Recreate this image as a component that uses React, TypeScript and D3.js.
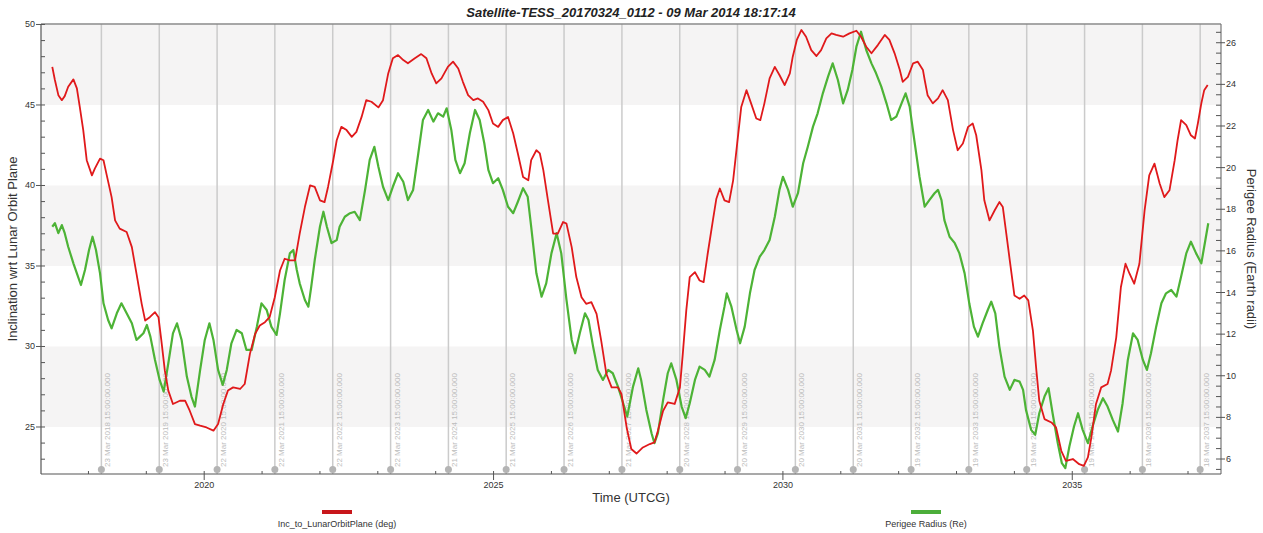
import React from "react";
import * as d3 from "d3";

const TITLE = "Satellite-TESS_20170324_0112 - 09 Mar 2014 18:17:14";
const X_TITLE = "Time (UTCG)";
const LEFT_TITLE = "Inclination wrt Lunar Orbit Plane";
const RIGHT_TITLE = "Perigee Radius (Earth radii)";
const INC_LABEL = "Inc_to_LunarOrbitPlane (deg)";
const PER_LABEL = "Perigee Radius (Re)";

const xMajorTicks = [2020, 2025, 2030, 2035];
const leftMajorTicks = [25, 30, 35, 40, 45, 50];
const rightMajorTicks = [6, 8, 10, 12, 14, 16, 18, 20, 22, 24, 26];
const bandStarts = [25, 35, 45];

const eventDates = [
  "23 Mar 2018", "23 Mar 2019", "22 Mar 2020", "22 Mar 2021", "22 Mar 2022",
  "22 Mar 2023", "21 Mar 2024", "21 Mar 2025", "21 Mar 2026", "21 Mar 2027",
  "20 Mar 2028", "20 Mar 2029", "20 Mar 2030", "20 Mar 2031", "19 Mar 2032",
  "19 Mar 2033", "19 Mar 2034", "19 Mar 2035", "18 Mar 2036", "18 Mar 2037",
];
const eventTime = "15:00:00.000";

const incTimes = [
  2017.375, 2017.42, 2017.48, 2017.54, 2017.59, 2017.65, 2017.74, 2017.80, 2017.85, 2017.91,
  2017.97, 2018.06, 2018.11, 2018.20, 2018.26, 2018.31, 2018.40, 2018.46, 2018.54, 2018.66,
  2018.75, 2018.83, 2018.92, 2018.98, 2019.06, 2019.15, 2019.21, 2019.26, 2019.32, 2019.38,
  2019.46, 2019.58, 2019.67, 2019.75, 2019.84, 2019.93, 2020.04, 2020.16, 2020.24, 2020.33,
  2020.41, 2020.50, 2020.62, 2020.70, 2020.79, 2020.88, 2020.96, 2021.05, 2021.13, 2021.22,
  2021.31, 2021.39, 2021.48, 2021.57, 2021.65, 2021.74, 2021.83, 2021.91, 2022.00, 2022.08,
  2022.14, 2022.23, 2022.29, 2022.37, 2022.46, 2022.55, 2022.63, 2022.72, 2022.80, 2022.89,
  2023.01, 2023.09, 2023.18, 2023.26, 2023.35, 2023.44, 2023.52, 2023.64, 2023.75, 2023.84,
  2023.93, 2024.01, 2024.10, 2024.21, 2024.30, 2024.39, 2024.47, 2024.56, 2024.65, 2024.73,
  2024.82, 2024.91, 2024.99, 2025.08, 2025.16, 2025.25, 2025.34, 2025.42, 2025.51, 2025.60,
  2025.65, 2025.74, 2025.80, 2025.86, 2025.94, 2026.03, 2026.11, 2026.20, 2026.26, 2026.35,
  2026.43, 2026.52, 2026.60, 2026.69, 2026.78, 2026.86, 2026.95, 2027.04, 2027.15, 2027.21,
  2027.30, 2027.38, 2027.47, 2027.58, 2027.70, 2027.78, 2027.84, 2027.93, 2028.01, 2028.13,
  2028.22, 2028.27, 2028.33, 2028.39, 2028.48, 2028.56, 2028.63, 2028.70, 2028.79, 2028.85,
  2028.91, 2028.99, 2029.07, 2029.14, 2029.21, 2029.28, 2029.37, 2029.45, 2029.54, 2029.61,
  2029.68, 2029.77, 2029.86, 2029.94, 2030.03, 2030.12, 2030.17, 2030.24, 2030.32, 2030.40,
  2030.49, 2030.58, 2030.66, 2030.75, 2030.84, 2030.92, 2031.04, 2031.15, 2031.27, 2031.35,
  2031.44, 2031.53, 2031.64, 2031.76, 2031.84, 2031.93, 2032.02, 2032.07, 2032.16, 2032.25,
  2032.33, 2032.42, 2032.45, 2032.50, 2032.59, 2032.68, 2032.76, 2032.85, 2032.94, 2033.02,
  2033.11, 2033.20, 2033.28, 2033.34, 2033.43, 2033.48, 2033.57, 2033.66, 2033.74, 2033.80,
  2033.86, 2033.92, 2034.00, 2034.09, 2034.17, 2034.24, 2034.32, 2034.38, 2034.43, 2034.52,
  2034.64, 2034.72, 2034.81, 2034.89, 2035.01, 2035.12, 2035.20, 2035.27, 2035.33, 2035.41,
  2035.50, 2035.61, 2035.67, 2035.76, 2035.84, 2035.92, 2035.99, 2036.07, 2036.16, 2036.25,
  2036.33, 2036.42, 2036.51, 2036.59, 2036.68, 2036.77, 2036.82, 2036.88, 2036.97, 2037.05,
  2037.12, 2037.17, 2037.23, 2037.28, 2037.34,
];
const incValues = [
  47.37, 46.55, 45.61, 45.30, 45.55, 46.13, 46.59, 46.03, 44.88, 43.44,
  41.57, 40.63, 41.05, 41.67, 41.57, 40.74, 39.28, 37.83, 37.32, 37.11,
  36.17, 34.52, 32.65, 31.61, 31.82, 32.13, 31.82, 30.37, 28.50, 27.26,
  26.43, 26.63, 26.63, 26.01, 25.18, 25.08, 24.97, 24.77, 25.18, 26.43,
  27.26, 27.46, 27.36, 27.67, 29.54, 30.78, 31.30, 31.51, 31.82, 33.06,
  34.72, 35.45, 35.35, 35.35, 37.01, 38.66, 40.01, 39.91, 39.08, 38.97,
  39.91, 41.57, 42.81, 43.64, 43.44, 43.02, 43.33, 44.26, 45.30, 45.20,
  44.85, 45.30, 46.96, 47.90, 48.10, 47.79, 47.59, 47.90, 48.16, 47.90,
  46.96, 46.34, 46.65, 47.37, 47.69, 47.27, 46.44, 45.61, 45.30, 45.41,
  45.20, 44.68, 43.85, 43.64, 44.06, 44.26, 43.23, 41.99, 40.53, 40.32,
  41.57, 42.19, 41.99, 40.95, 39.08, 37.01, 37.01, 37.73, 37.63, 36.17,
  34.31, 33.06, 32.65, 32.75, 32.03, 30.37, 28.29, 27.46, 27.46, 27.05,
  24.97, 23.63, 23.35, 23.73, 23.94, 24.04, 24.77, 26.01, 26.53, 26.43,
  27.46, 29.54, 32.23, 34.31, 34.62, 34.10, 34.00, 35.76, 37.83, 39.18,
  39.81, 39.08, 38.97, 40.32, 42.61, 44.88, 45.92, 45.10, 44.16, 44.06,
  45.10, 46.65, 47.37, 46.86, 46.24, 46.96, 48.00, 49.04, 49.66, 49.24,
  48.41, 48.04, 48.41, 49.14, 49.45, 49.35, 49.24, 49.45, 49.61, 49.24,
  48.62, 48.21, 48.72, 49.35, 49.04, 48.21, 47.17, 46.44, 46.75, 47.59,
  47.69, 47.17, 46.55, 45.61, 45.10, 45.41, 45.92, 45.30, 43.44, 42.19,
  42.61, 43.64, 43.85, 43.12, 40.95, 39.08, 37.83, 38.46, 38.97, 38.66,
  37.01, 35.35, 33.17, 32.96, 33.17, 32.86, 30.99, 28.50, 26.63, 25.49,
  25.28, 24.97, 23.52, 22.90, 23.01, 22.69, 22.59, 23.11, 24.35, 26.43,
  27.46, 27.67, 28.50, 30.57, 33.68, 35.14, 34.52, 33.90, 35.14, 38.46,
  40.63, 41.36, 40.12, 39.28, 39.70, 41.57, 42.81, 44.06, 43.75, 43.12,
  42.92, 43.85, 45.10, 45.92, 46.24,
];

const perigeeTimes = [
  2017.375, 2017.42, 2017.48, 2017.54, 2017.59, 2017.65, 2017.74, 2017.80, 2017.87, 2017.94,
  2018.01, 2018.07, 2018.13, 2018.20, 2018.26, 2018.34, 2018.40, 2018.49, 2018.57, 2018.66,
  2018.75, 2018.83, 2018.89, 2018.95, 2019.01, 2019.07, 2019.15, 2019.23, 2019.30, 2019.38,
  2019.46, 2019.53, 2019.61, 2019.70, 2019.78, 2019.84, 2019.93, 2020.01, 2020.09, 2020.16,
  2020.24, 2020.32, 2020.39, 2020.47, 2020.56, 2020.65, 2020.73, 2020.82, 2020.91, 2020.99,
  2021.08, 2021.16, 2021.25, 2021.31, 2021.39, 2021.48, 2021.54, 2021.60, 2021.65, 2021.74,
  2021.80, 2021.85, 2021.91, 2022.00, 2022.06, 2022.12, 2022.20, 2022.29, 2022.34, 2022.43,
  2022.52, 2022.60, 2022.69, 2022.78, 2022.86, 2022.94, 2023.01, 2023.09, 2023.18, 2023.26,
  2023.35, 2023.44, 2023.52, 2023.61, 2023.70, 2023.78, 2023.87, 2023.96, 2024.04, 2024.13,
  2024.19, 2024.27, 2024.34, 2024.42, 2024.50, 2024.59, 2024.68, 2024.76, 2024.84, 2024.91,
  2024.99, 2025.08, 2025.16, 2025.25, 2025.34, 2025.42, 2025.51, 2025.59, 2025.65, 2025.74,
  2025.83, 2025.91, 2026.00, 2026.09, 2026.17, 2026.26, 2026.35, 2026.41, 2026.49, 2026.58,
  2026.64, 2026.72, 2026.80, 2026.89, 2026.98, 2027.06, 2027.15, 2027.24, 2027.31, 2027.41,
  2027.50, 2027.55, 2027.64, 2027.73, 2027.78, 2027.84, 2027.93, 2028.01, 2028.07, 2028.16,
  2028.25, 2028.32, 2028.39, 2028.48, 2028.56, 2028.65, 2028.73, 2028.82, 2028.91, 2028.99,
  2029.03, 2029.11, 2029.20, 2029.26, 2029.34, 2029.43, 2029.51, 2029.60, 2029.68, 2029.77,
  2029.86, 2029.94, 2030.00, 2030.09, 2030.17, 2030.26, 2030.35, 2030.43, 2030.52, 2030.60,
  2030.69, 2030.78, 2030.86, 2030.95, 2031.04, 2031.12, 2031.20, 2031.27, 2031.35, 2031.44,
  2031.53, 2031.61, 2031.70, 2031.79, 2031.87, 2031.96, 2032.05, 2032.12, 2032.19, 2032.27,
  2032.36, 2032.45, 2032.53, 2032.62, 2032.68, 2032.74, 2032.79, 2032.88, 2032.97, 2033.05,
  2033.14, 2033.22, 2033.30, 2033.37, 2033.45, 2033.54, 2033.60, 2033.67, 2033.74, 2033.83,
  2033.92, 2034.00, 2034.09, 2034.15, 2034.20, 2034.29, 2034.36, 2034.43, 2034.52, 2034.59,
  2034.66, 2034.75, 2034.82, 2034.88, 2034.95, 2035.03, 2035.10, 2035.18, 2035.27, 2035.35,
  2035.44, 2035.53, 2035.61, 2035.70, 2035.79, 2035.87, 2035.96, 2036.05, 2036.13, 2036.22,
  2036.29, 2036.36, 2036.45, 2036.54, 2036.62, 2036.71, 2036.80, 2036.88, 2036.97, 2037.05,
  2037.14, 2037.23, 2037.30, 2037.35,
];
const perigeeValues = [
  17.16, 17.33, 16.85, 17.24, 16.85, 16.20, 15.40, 14.92, 14.36, 15.08,
  16.04, 16.68, 16.04, 14.92, 13.48, 12.68, 12.28, 13.00, 13.48, 13.00,
  12.52, 11.72, 11.88, 12.04, 12.44, 11.88, 10.76, 9.80, 9.24, 10.60,
  12.04, 12.52, 11.72, 9.96, 9.00, 8.52, 10.28, 11.72, 12.52, 11.72,
  10.28, 9.56, 10.28, 11.56, 12.20, 12.04, 11.24, 11.24, 12.36, 13.48,
  13.16, 12.36, 11.96, 13.00, 14.60, 15.88, 16.04, 15.08, 14.44, 13.64,
  13.32, 14.28, 15.56, 17.16, 17.88, 17.16, 16.37, 16.52, 17.16, 17.64,
  17.81, 17.88, 17.48, 18.93, 20.37, 21.00, 20.04, 19.08, 18.44, 19.08,
  19.73, 19.32, 18.44, 18.93, 20.69, 22.29, 22.77, 22.21, 22.61, 22.45,
  22.85, 21.81, 20.37, 19.73, 20.21, 21.65, 22.77, 22.29, 21.17, 19.89,
  19.25, 19.49, 18.93, 18.12, 17.81, 18.36, 19.01, 18.60, 17.16, 14.92,
  13.80, 14.44, 15.88, 16.85, 15.88, 13.64, 11.72, 11.08, 12.04, 13.00,
  12.68, 11.40, 10.28, 9.80, 10.28, 10.12, 9.48, 8.68, 8.04, 9.48,
  10.36, 9.80, 8.36, 7.24, 6.76, 7.24, 8.84, 10.12, 10.60, 9.80,
  8.52, 7.96, 8.68, 9.80, 10.44, 10.28, 9.96, 10.76, 12.20, 13.32,
  13.96, 13.32, 12.20, 11.56, 12.36, 13.96, 15.08, 15.72, 16.04, 16.52,
  17.64, 18.93, 19.56, 18.93, 18.12, 18.77, 20.21, 21.00, 21.97, 22.61,
  23.57, 24.37, 25.01, 24.21, 23.09, 23.73, 24.69, 25.81, 26.53, 25.65,
  25.01, 24.53, 23.89, 23.09, 22.29, 22.45, 23.09, 23.57, 22.93, 21.33,
  19.56, 18.12, 18.44, 18.77, 18.93, 18.44, 17.48, 16.68, 16.37, 15.88,
  14.92, 13.48, 12.36, 11.88, 12.52, 13.16, 13.56, 13.00, 11.40, 9.96,
  9.32, 9.80, 9.72, 9.32, 8.36, 7.40, 7.16, 8.20, 9.00, 9.40,
  8.20, 6.76, 5.80, 5.56, 6.60, 7.56, 8.20, 7.40, 6.76, 7.56,
  8.36, 8.92, 8.52, 7.88, 7.32, 8.68, 10.76, 12.04, 11.72, 10.76,
  10.28, 11.08, 12.36, 13.48, 13.96, 14.12, 13.80, 14.76, 15.88, 16.44,
  15.88, 15.40, 16.52, 17.33,
];

const W = 1263;
const H = 533;
const M = { left: 41, right: 1221, top: 24, bottom: 474 };
const FONT = "'Liberation Sans', Arial, Helvetica, sans-serif";

const monthIdx: Record<string, number> = { Jan: 0, Feb: 1, Mar: 2, Apr: 3, May: 4, Jun: 5, Jul: 6, Aug: 7, Sep: 8, Oct: 9, Nov: 10, Dec: 11 };
function fracYear(s: string): number {
  const [dd, mon, yyyy] = s.split(" ");
  const y = +yyyy;
  const t = Date.UTC(y, monthIdx[mon], +dd, 15);
  const a = Date.UTC(y, 0, 1);
  const b = Date.UTC(y + 1, 0, 1);
  return y + (t - a) / (b - a);
}

export default function App() {
  const x = d3.scaleLinear().domain([2017.18, 2037.57]).range([M.left, M.right]);
  const yL = d3.scaleLinear().domain([22.08, 50.03]).range([M.bottom, M.top]);
  const yR = d3.scaleLinear().domain([5.28, 26.9]).range([M.bottom, M.top]);

  const incData = d3.range(Math.min(incTimes.length, incValues.length)).map((i) => [incTimes[i], incValues[i]] as [number, number]);
  const perData = d3.range(Math.min(perigeeTimes.length, perigeeValues.length)).map((i) => [perigeeTimes[i], perigeeValues[i]] as [number, number]);

  const incLine = d3.line<[number, number]>().x((d) => x(d[0])).y((d) => yL(d[1]));
  const perLine = d3.line<[number, number]>().x((d) => x(d[0])).y((d) => yR(d[1]));

  const xMinor = d3.range(2018, 2038).filter((v) => !xMajorTicks.includes(v));
  const leftMinor = d3.range(23, 51).filter((v) => v % 5 !== 0);
  const rightMinor = d3.range(5.5, 26.9, 0.5).filter((v) => Math.abs(v % 2) > 0.01);

  const cx = (M.left + M.right) / 2;
  const cy = (M.top + M.bottom) / 2;

  return (
    <svg width={W} height={H} style={{ position: "absolute", left: 0, top: 0, display: "block", background: "#fff" }} fontFamily={FONT}>
      {/* bands */}
      {bandStarts.map((b) => (
        <rect key={b} x={M.left} y={yL(b + 5)} width={M.right - M.left} height={yL(b) - yL(b + 5)} fill="#f5f4f4" />
      ))}
      {/* event lines */}
      {eventDates.map((d) => {
        const xx = x(fracYear(d));
        return (
          <g key={d}>
            <line x1={xx} x2={xx} y1={M.top} y2={M.bottom} stroke="#cbcbcb" strokeWidth={1.5} />
            <text transform={`translate(${xx + 9},${467}) rotate(-90)`} fontSize={8} fill="#bcbcbc">
              {`${d} ${eventTime}`}
            </text>
            <circle cx={xx} cy={469.5} r={3.5} fill="#b4b4b4" />
          </g>
        );
      })}
      {/* series */}
      <path d={perLine(perData) || ""} fill="none" stroke="#4db336" strokeWidth={2.2} strokeLinejoin="round" />
      <path d={incLine(incData) || ""} fill="none" stroke="#e0191b" strokeWidth={1.8} strokeLinejoin="round" />

      {/* frame */}
      <line x1={M.left} x2={M.right} y1={M.top} y2={M.top} stroke="#8a8a8a" strokeWidth={1.5} />
      <line x1={M.right} x2={M.right} y1={M.top} y2={M.bottom} stroke="#777" strokeWidth={1.2} />
      <line x1={M.left} x2={M.left} y1={M.top} y2={M.bottom} stroke="#555" strokeWidth={1.2} />
      <line x1={M.left} x2={M.right} y1={M.bottom} y2={M.bottom} stroke="#555" strokeWidth={1.2} />

      {/* left axis */}
      {leftMinor.map((v) => (
        <line key={"lm" + v} x1={M.left} x2={M.left + 4} y1={yL(v)} y2={yL(v)} stroke="#555" />
      ))}
      {leftMajorTicks.map((v) => (
        <g key={"l" + v}>
          <line x1={M.left - 5} x2={M.left + 4} y1={yL(v)} y2={yL(v)} stroke="#555" />
          <text x={M.left - 6} y={yL(v) + 3} fontSize={9} fill="#333" textAnchor="end">{v}</text>
        </g>
      ))}
      {/* right axis */}
      {rightMinor.map((v) => (
        <line key={"rm" + v} x1={M.right - 5} x2={M.right} y1={yR(v)} y2={yR(v)} stroke="#555" />
      ))}
      {rightMajorTicks.map((v) => (
        <g key={"r" + v}>
          <line x1={M.right - 5} x2={M.right + 4} y1={yR(v)} y2={yR(v)} stroke="#555" />
          <text x={M.right + 5} y={yR(v) + 3} fontSize={9} fill="#333">{v}</text>
        </g>
      ))}
      {/* bottom axis */}
      {xMinor.map((v) => (
        <line key={"xm" + v} x1={x(v)} x2={x(v)} y1={M.bottom - 3} y2={M.bottom} stroke="#555" />
      ))}
      {xMajorTicks.map((v) => (
        <g key={"x" + v}>
          <line x1={x(v)} x2={x(v)} y1={M.bottom - 3} y2={M.bottom + 6} stroke="#555" />
          <text x={x(v)} y={488} fontSize={9} fill="#333" textAnchor="middle">{v}</text>
        </g>
      ))}

      {/* titles */}
      <text x={cx} y={17} fontSize={13} fontWeight="bold" fontStyle="italic" fill="#222" textAnchor="middle">{TITLE}</text>
      <text x={cx} y={502} fontSize={13} fill="#333" textAnchor="middle">{X_TITLE}</text>
      <text transform={`translate(17,${cy}) rotate(-90)`} fontSize={13} fill="#333" textAnchor="middle">{LEFT_TITLE}</text>
      <text transform={`translate(1247,${cy}) rotate(90)`} fontSize={13} fill="#333" textAnchor="middle">{RIGHT_TITLE}</text>

      {/* legend */}
      <rect x={322} y={510} width={30} height={4} fill="#c8161b" />
      <text x={337} y={527} fontSize={9} fill="#333" textAnchor="middle">{INC_LABEL}</text>
      <rect x={911} y={510} width={30} height={4} fill="#4cae3a" />
      <text x={926} y={527} fontSize={9} fill="#333" textAnchor="middle">{PER_LABEL}</text>
    </svg>
  );
}
